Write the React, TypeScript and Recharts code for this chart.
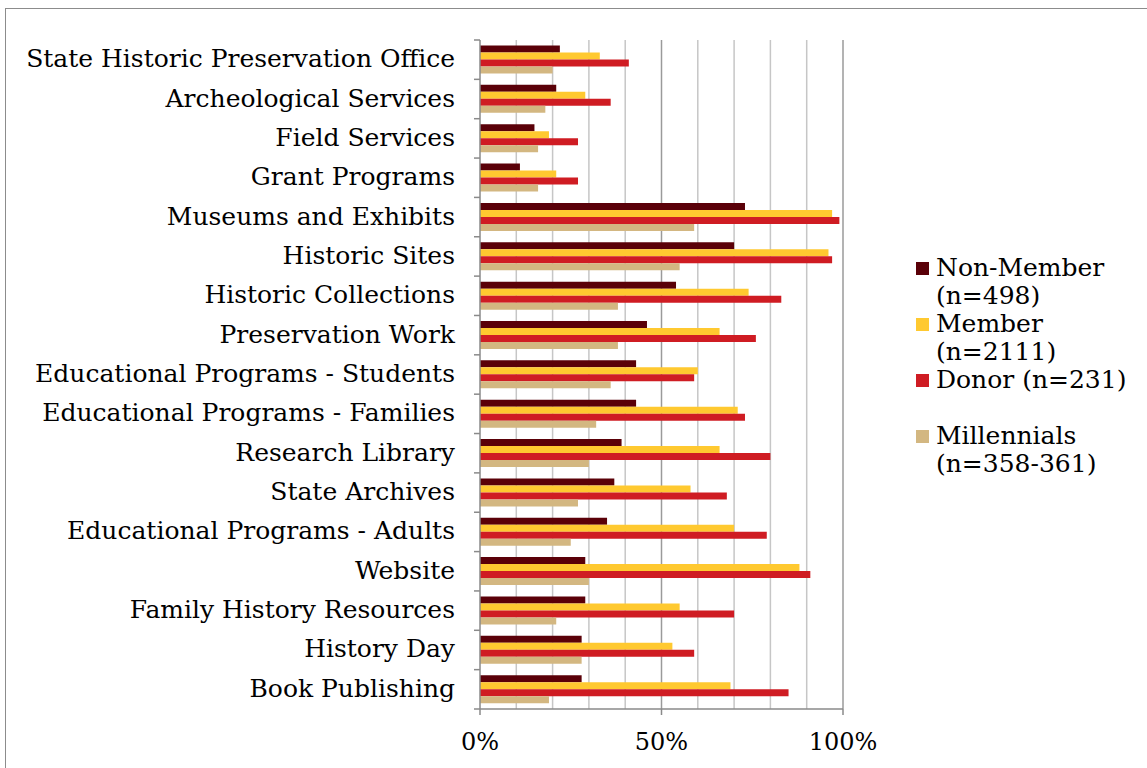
import {
  BarChart,
  Bar,
  XAxis,
  YAxis,
  CartesianGrid,
  Legend,
} from "recharts";

const categories = [
  "State Historic Preservation Office",
  "Archeological Services",
  "Field Services",
  "Grant Programs",
  "Museums and Exhibits",
  "Historic Sites",
  "Historic Collections",
  "Preservation Work",
  "Educational Programs - Students",
  "Educational Programs - Families",
  "Research Library",
  "State Archives",
  "Educational Programs - Adults",
  "Website",
  "Family History Resources",
  "History Day",
  "Book Publishing",
];

const nonMember = [22, 21, 15, 11, 73, 70, 54, 46, 43, 43, 39, 37, 35, 29, 29, 28, 28];
const member = [33, 29, 19, 21, 97, 96, 74, 66, 60, 71, 66, 58, 70, 88, 55, 53, 69];
const donor = [41, 36, 27, 27, 99, 97, 83, 76, 59, 73, 80, 68, 79, 91, 70, 59, 85];
const millennials = [20, 18, 16, 16, 59, 55, 38, 38, 36, 32, 30, 27, 25, 30, 21, 28, 19];

const seriesNames = [
  "Non-Member (n=498)",
  "Member (n=2111)",
  "Donor (n=231)",
  "Millennials (n=358-361)",
];
const seriesKeys = ["nonMember", "member", "donor", "millennials"];
const seriesColors = ["#5a0008", "#ffc930", "#cf1c23", "#d3b781"];

const xTicks = [0, 50, 100];
const minorGrid = [10, 20, 30, 40, 60, 70, 80, 90];

const data = categories.map((name, i) => ({
  name,
  nonMember: nonMember[i],
  member: member[i],
  donor: donor[i],
  millennials: millennials[i],
}));

const W = 1147;
const H = 768;
const margin = { top: 40, right: 304, bottom: 19, left: 0 };
const xAxisHeight = 40;
const plotHeight = H - margin.top - margin.bottom - xAxisHeight;
const band = plotHeight / categories.length;
const font = "'DejaVu Serif', serif";
const axisColor = "#8a8a8a";

function CategoryTick(props: any) {
  const { x, y, payload, index } = props;
  const axisX = x + 25;
  const half = band / 2;
  return (
    <g>
      <line x1={axisX - 6} x2={axisX} y1={y - half} y2={y - half} stroke={axisColor} strokeWidth={1.5} />
      {index === categories.length - 1 && (
        <line x1={axisX - 6} x2={axisX} y1={y + half} y2={y + half} stroke={axisColor} strokeWidth={1.5} />
      )}
      <text x={x} y={y} dy="0.3em" textAnchor="end" fill="#000" fontSize={25} fontFamily={font}>
        {payload.value}
      </text>
    </g>
  );
}

function LegendBox() {
  return (
    <div style={{ fontFamily: font, fontSize: 25, color: "#000" }}>
      {seriesNames.map((label, i) => (
        <div key={label} style={{ display: "flex", height: 56, alignItems: "flex-start" }}>
          <div
            style={{
              width: 13,
              height: 13,
              background: seriesColors[i],
              marginTop: 8,
              marginRight: 7,
              flex: "none",
            }}
          />
          <div style={{ width: 200, lineHeight: "28px" }}>{label}</div>
        </div>
      ))}
    </div>
  );
}

export default function App() {
  return (
    <div style={{ position: "absolute", left: 0, top: 0, width: W, height: H, background: "#fff", overflow: "hidden" }}>
      <div
        style={{
          position: "absolute",
          left: 5,
          top: 8,
          width: W + 20,
          height: H + 20,
          border: "1.5px solid #8c8c8c",
        }}
      />
      <div style={{ position: "absolute", left: 0, top: 0 }}>
        <BarChart
          width={W}
          height={H}
          data={data}
          layout="vertical"
          margin={margin}
          barCategoryGap="14%"
          barGap={0}
        >
          <CartesianGrid horizontal={false} verticalValues={minorGrid} stroke="#c6c6c6" strokeWidth={1.5} />
          <CartesianGrid horizontal={false} verticalValues={[50, 100]} stroke="#9a9a9a" strokeWidth={1.5} />
          <XAxis
            type="number"
            domain={[0, 100]}
            ticks={xTicks}
            interval={0}
            height={xAxisHeight}
            tickFormatter={(v: number) => `${v}%`}
            axisLine={{ stroke: axisColor, strokeWidth: 1.5 }}
            tickLine={{ stroke: axisColor, strokeWidth: 1.5 }}
            tickSize={6}
            tickMargin={18}
            tick={{ fill: "#000", fontSize: 24, fontFamily: font }}
          />
          <YAxis
            type="category"
            dataKey="name"
            width={480}
            interval={0}
            axisLine={{ stroke: axisColor, strokeWidth: 1.5 }}
            tickLine={false}
            tickSize={6}
            tickMargin={19}
            tick={<CategoryTick />}
          />
          <Legend
            layout="vertical"
            align="center"
            verticalAlign="middle"
            content={<LegendBox />}
            wrapperStyle={{ left: 916, top: 254, width: 230 }}
          />
          {seriesKeys.map((key, i) => (
            <Bar
              key={key}
              dataKey={key}
              name={seriesNames[i]}
              fill={seriesColors[i]}
              isAnimationActive={false}
            />
          ))}
        </BarChart>
      </div>
    </div>
  );
}
